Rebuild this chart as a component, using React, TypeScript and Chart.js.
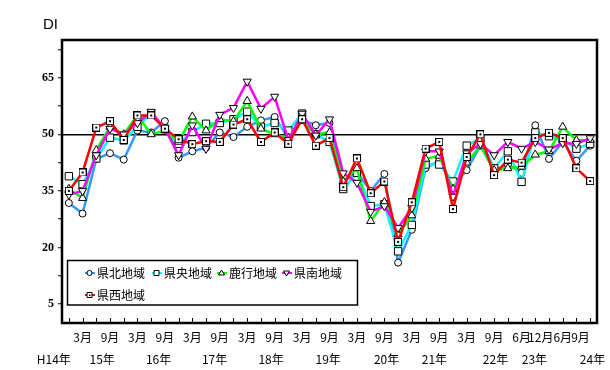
import React, { useEffect, useRef } from 'react';
import { Chart, registerables } from 'chart.js';

Chart.register(...registerables);

// Quarterly survey points (H23.3 missing)
const categories = [
  'H14.12',
  'H15.3', 'H15.6', 'H15.9', 'H15.12',
  'H16.3', 'H16.6', 'H16.9', 'H16.12',
  'H17.3', 'H17.6', 'H17.9', 'H17.12',
  'H18.3', 'H18.6', 'H18.9', 'H18.12',
  'H19.3', 'H19.6', 'H19.9', 'H19.12',
  'H20.3', 'H20.6', 'H20.9', 'H20.12',
  'H21.3', 'H21.6', 'H21.9', 'H21.12',
  'H22.3', 'H22.6', 'H22.9', 'H22.12',
  'H23.6', 'H23.9', 'H23.12',
  'H24.3', 'H24.6', 'H24.9',
];

const kenpoku = [31.8, 29, 43.5, 45, 43.3, 51, 50.5, 53.5, 43.8, 45.5, 46.5, 50.5, 49.3, 52, 53.7, 54.6, 49, 54, 52.4, 53, 37.5, 40, 35, 39.5, 16, 24.7, 41, 43, 36.5, 40.5, 47, 40.5, 42, 39.8, 52.4, 43.5, 48, 43, 47];
const kenou = [38.9, 36.8, 43.6, 49.1, 48.4, 52, 55.5, 51.5, 47.5, 50.6, 52.8, 53, 54, 56, 52, 53, 51, 55.5, 50, 48, 35.5, 39.8, 31, 31.5, 19, 26, 42, 42, 37.5, 47, 49, 41, 45.5, 37.4, 50.5, 49.5, 48.5, 46.2, 47.5];
const rokkou = [35.5, 33.1, 45.8, 52, 50, 55, 50, 51, 48, 54.7, 51, 54, 53.5, 58.8, 51.5, 50, 49, 53.5, 50, 50.5, 37.5, 41, 27, 32, 23.5, 28.5, 43.5, 44.3, 35.5, 42.5, 47, 40.5, 41, 41.4, 44.6, 45.5, 52, 48.4, 48.5];
const kennan = [34, 35, 44.5, 51.5, 50, 53, 56, 51.5, 44.5, 52.4, 46.2, 55.2, 57, 64, 56.8, 60, 48.5, 55.5, 49.7, 54, 39.7, 37.2, 29.5, 31, 25.2, 30.5, 45.5, 45.5, 33.5, 45, 47.5, 44.5, 48, 46.2, 48, 46, 47.7, 47.5, 49];
const kensei = [35, 39.9, 51.8, 53.5, 48.5, 55, 55, 51.5, 48.7, 47.4, 48.2, 48, 52.6, 54, 48, 50.5, 47.5, 54, 47, 49, 36, 43.6, 34.4, 37.5, 21.5, 32, 46.2, 48, 30.2, 44, 50, 39.2, 43.3, 42.5, 49, 50.4, 49, 41, 37.6];

const seriesNames = ['県北地域', '県央地域', '鹿行地域', '県南地域', '県西地域'];
const seriesColors = ['#3399FF', '#00FFFF', '#00FF00', '#FF00FF', '#FF0000'];

const yTicks = [5, 12.5, 20, 27.5, 35, 42.5, 50, 57.5, 65, 72.5];
const yLabelValues = [5, 20, 35, 50, 65];

const monthLabels = ['3月', '9月', '3月', '9月', '3月', '9月', '3月', '9月', '3月', '9月', '3月', '9月', '3月', '9月', '3月', '9月', '6月', '12月', '6月', '9月'];
const monthLabelAt = [1, 3, 5, 7, 9, 11, 13, 15, 17, 19, 21, 23, 25, 27, 29, 31, 33, 34.4, 36, 37.3];
const yearLabels = ['H14年', '15年', '16年', '17年', '18年', '19年', '20年', '21年', '22年', '23年', '24年'];
const yearLabelAt = [-1.1, 2.43, 6.54, 10.62, 14.74, 18.9, 23.16, 26.65, 31.1, 33.94, 38.17];

const JP_FONT = '12px "Noto Sans CJK JP", "Noto Sans", sans-serif';

function makeDotSquare(): HTMLCanvasElement {
  const c = document.createElement('canvas');
  c.width = 8;
  c.height = 8;
  const g = c.getContext('2d')!;
  g.fillStyle = '#fff';
  g.fillRect(0, 0, 8, 8);
  g.strokeStyle = '#000';
  g.lineWidth = 1;
  g.strokeRect(0.5, 0.5, 7, 7);
  g.fillStyle = '#000';
  g.fillRect(3, 3, 2, 2);
  return c;
}

function drawMarker(ctx: CanvasRenderingContext2D, kind: number, x: number, y: number) {
  ctx.save();
  ctx.fillStyle = '#fff';
  ctx.strokeStyle = '#000';
  ctx.lineWidth = 1;
  ctx.beginPath();
  if (kind === 0) {
    ctx.arc(x, y, 2.5, 0, Math.PI * 2);
  } else if (kind === 1 || kind === 4) {
    ctx.rect(x - 2.5, y - 2.5, 5, 5);
  } else if (kind === 2) {
    ctx.moveTo(x, y - 3);
    ctx.lineTo(x + 3, y + 2);
    ctx.lineTo(x - 3, y + 2);
    ctx.closePath();
  } else {
    ctx.moveTo(x, y + 3);
    ctx.lineTo(x + 3, y - 2);
    ctx.lineTo(x - 3, y - 2);
    ctx.closePath();
  }
  ctx.fill();
  ctx.stroke();
  if (kind === 4) {
    ctx.fillStyle = '#000';
    ctx.fillRect(x - 0.5, y - 0.5, 1.5, 1.5);
  }
  ctx.restore();
}

const decorPlugin = {
  id: 'decor',
  afterDraw(chart: any) {
    const { ctx, chartArea: a, scales } = chart;
    const xs = scales.x;
    ctx.save();
    // inward x ticks
    ctx.strokeStyle = '#000';
    ctx.lineWidth = 1;
    for (let i = 0; i < categories.length; i++) {
      const px = Math.round(xs.getPixelForValue(i)) + 0.5;
      ctx.beginPath();
      ctx.moveTo(px, a.bottom);
      ctx.lineTo(px, a.bottom - 5);
      ctx.stroke();
    }
    // plot frame
    ctx.lineWidth = 2.5;
    ctx.strokeRect(a.left, a.top, a.right - a.left, a.bottom - a.top);

    // x labels
    ctx.fillStyle = '#000';
    ctx.font = JP_FONT;
    ctx.textAlign = 'center';
    ctx.textBaseline = 'middle';
    monthLabels.forEach((t, k) => {
      ctx.fillText(t, xs.getPixelForValue(monthLabelAt[k]), a.bottom + 14.5);
    });
    yearLabels.forEach((t, k) => {
      ctx.fillText(t, xs.getPixelForValue(yearLabelAt[k]), a.bottom + 36);
    });

    // DI
    ctx.font = '15px "Liberation Sans", Arial, sans-serif';
    ctx.textAlign = 'left';
    ctx.fillText('DI', 43, 25);

    // legend
    const lx = 67.5, ly = 260.5, lw = 290, lh = 44.5;
    ctx.fillStyle = '#fff';
    ctx.fillRect(lx, ly, lw, lh);
    ctx.strokeStyle = '#000';
    ctx.lineWidth = 1.5;
    ctx.strokeRect(lx, ly, lw, lh);
    const itemX = [85, 152, 217, 282, 85];
    const itemY = [273, 273, 273, 273, 295];
    ctx.font = JP_FONT;
    ctx.textBaseline = 'middle';
    ctx.textAlign = 'left';
    seriesNames.forEach((name, k) => {
      const x0 = itemX[k];
      const y0 = itemY[k];
      ctx.strokeStyle = seriesColors[k];
      ctx.lineWidth = 2;
      ctx.beginPath();
      ctx.moveTo(x0, y0);
      ctx.lineTo(x0 + 10, y0);
      ctx.stroke();
      drawMarker(ctx, k, x0 + 4.5, y0);
      ctx.fillStyle = '#000';
      ctx.fillText(name, x0 + 12, y0);
    });
    ctx.restore();
  },
};

export default function App() {
  const canvasRef = useRef<HTMLCanvasElement | null>(null);

  useEffect(() => {
    if (!canvasRef.current) return;
    const dotSquare = makeDotSquare();
    const values = [kenpoku, kenou, rokkou, kennan, kensei];
    const styles: any[] = ['circle', 'rect', 'triangle', 'triangle', dotSquare];
    const radii = [3.5, 5.2, 4.7, 4.7, 4];
    const rotations = [0, 0, 0, 180, 0];

    const datasets = values.map((data, k) => ({
      label: seriesNames[k],
      data,
      borderColor: seriesColors[k],
      backgroundColor: seriesColors[k],
      borderWidth: 2.5,
      pointStyle: styles[k],
      pointRadius: radii[k],
      pointRotation: rotations[k],
      pointBackgroundColor: '#fff',
      pointBorderColor: '#000',
      pointBorderWidth: 1,
      tension: 0,
      fill: false,
      order: 4 - k,
    }));

    const chart = new Chart(canvasRef.current, {
      type: 'line',
      data: { labels: categories, datasets },
      options: {
        animation: false,
        responsive: false,
        devicePixelRatio: 1,
        layout: { padding: { left: 0, top: 40, right: 13, bottom: 0 } },
        plugins: { legend: { display: false }, tooltip: { enabled: false } },
        scales: {
          x: {
            type: 'category',
            offset: true,
            grid: { display: false },
            border: { display: false },
            ticks: { display: false },
            afterFit: (s: any) => { s.height = 47; },
          },
          y: {
            min: 0,
            max: 75,
            afterBuildTicks: (s: any) => { s.ticks = yTicks.map((v) => ({ value: v })); },
            afterFit: (s: any) => { s.width = 62; },
            border: { display: false },
            grid: {
              color: (c: any) => (c.tick && c.tick.value === 50 ? '#000' : 'rgba(0,0,0,0)'),
              lineWidth: 1.5,
              tickColor: '#000',
              tickLength: 4,
              tickWidth: 1,
            },
            ticks: {
              autoSkip: false,
              padding: 4,
              color: '#000',
              font: { family: '"Liberation Serif", "Times New Roman", serif', size: 12, weight: 'bold' },
              callback: (v: any) => (yLabelValues.includes(Number(v)) ? String(v) : ''),
            },
          },
        },
      },
      plugins: [decorPlugin],
    } as any);

    return () => chart.destroy();
  }, []);

  return (
    <div style={{ position: 'absolute', left: 0, top: 0, width: 610, height: 370, background: '#fff' }}>
      <canvas ref={canvasRef} width={610} height={370} />
    </div>
  );
}
